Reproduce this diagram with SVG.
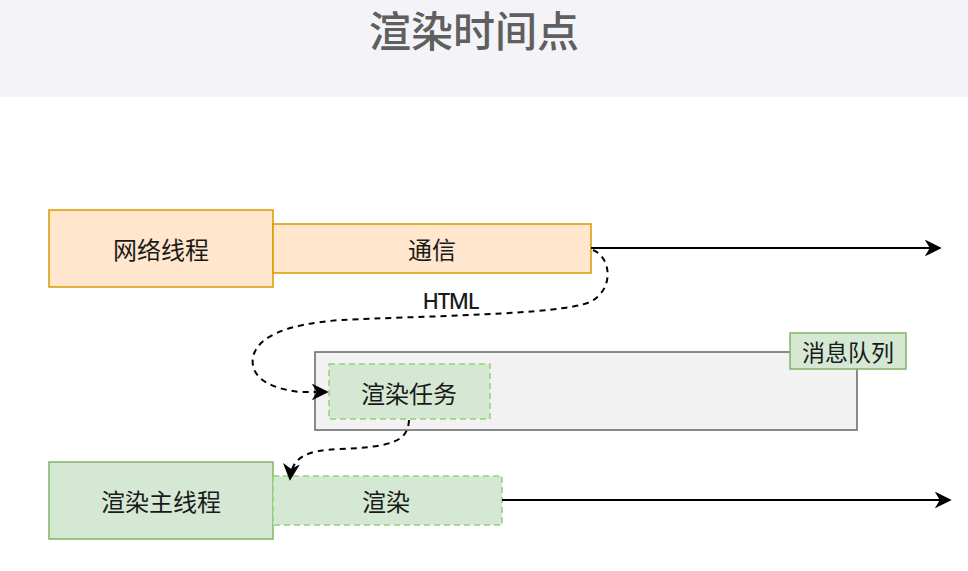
<svg xmlns="http://www.w3.org/2000/svg" width="968" height="571" viewBox="0 0 968 571">
<style>
text{font-family:"Noto Sans CJK SC","Noto Sans",sans-serif;fill:#1a1a1a;text-anchor:middle;dominant-baseline:central}
.lbl{font-size:24px}
.orange{fill:#ffe6cc;stroke:#d79b00;stroke-width:1.5}
.green{fill:#d5e8d4;stroke:#82b366;stroke-width:1.5}
.gdash{fill:#d5e8d4;stroke:#97d077;stroke-width:1.5;stroke-dasharray:6 4}
.line{fill:none;stroke:#000;stroke-width:2}
.dash{fill:none;stroke:#000;stroke-width:2;stroke-dasharray:6 5}
</style>
<defs>
<marker id="arr2" viewBox="0 0 10 10" refX="9" refY="5" markerWidth="17" markerHeight="17" markerUnits="userSpaceOnUse" orient="auto">
<path d="M0,0 L10,5 L0,10 L3,5 Z" fill="#000"/>
</marker>
</defs>
<rect x="0" y="0" width="968" height="97" fill="#f4f4f8"/>
<text x="474" y="28" style="font-size:42px;fill:#5f5f5f;font-weight:500">渲染时间点</text>
<g id="net-thread"><rect class="orange" x="49" y="210" width="224" height="77"/><text class="lbl" x="161" y="248">网络线程</text></g>
<g id="comm"><rect class="orange" x="273" y="224" width="318" height="49"/><text class="lbl" x="432" y="248">通信</text></g>
<g id="html-label"><text x="451" y="300" textLength="57" style="font-family:'Noto Sans',sans-serif;font-size:22px;font-weight:500">HTML</text></g>
<g id="queue"><rect x="315" y="352" width="542" height="78" fill="#f2f2f2" stroke="#666" stroke-width="1.5"/></g>
<g id="queue-label"><rect class="green" x="790" y="333" width="116" height="36"/><text x="848" y="351" style="font-size:23px">消息队列</text></g>
<g id="render-task"><rect class="gdash" x="329" y="364" width="161" height="55"/><text class="lbl" x="409" y="392">渲染任务</text></g>
<g id="main-thread"><rect class="green" x="49" y="462" width="224" height="77"/><text class="lbl" x="161" y="500">渲染主线程</text></g>
<g id="render"><rect class="gdash" x="273" y="476" width="229" height="49"/><text class="lbl" x="386" y="500">渲染</text></g>
<g id="connectors">
<path class="line" d="M591,248 L940,248" marker-end="url(#arr2)"/>
<path class="line" d="M502,500 L950,500" marker-end="url(#arr2)"/>
<path class="dash" d="M593,250 C612,258 614,290 590,302 C560,315 420,316 340,320 C290,324 258,335 253,357 C250,375 265,388 300,392 L327,392" marker-end="url(#arr2)"/>
<path class="dash" d="M409,420 C408,440 395,447 340,449 C305,450 292,458 290,479" marker-end="url(#arr2)"/>
</g>
</svg>
